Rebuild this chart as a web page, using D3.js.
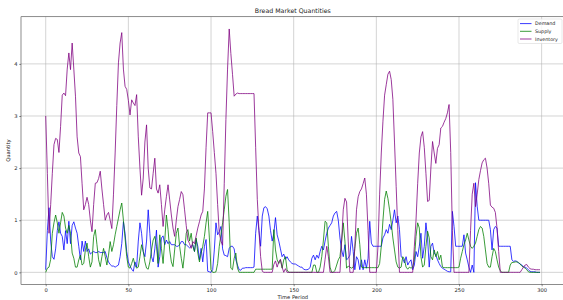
<!DOCTYPE html>
<html><head><meta charset="utf-8">
<script src="https://cdn.jsdelivr.net/npm/d3@7"></script>
<style>html,body{margin:0;padding:0;background:#fff;overflow:hidden}svg{display:block}text{font-family:"DejaVu Sans",sans-serif;fill:#222}</style>
</head><body>
<script>
const title = "Bread Market Quantities";
const xLabel = "Time Period";
const yLabel = "Quantity";
const seriesNames = ["Demand", "Supply", "Inventory"];
const seriesColors = ["#0000ff", "#008000", "#800080"];
const xTicks = [0, 50, 100, 150, 200, 250, 300];
const yTicks = [0, 1, 2, 3, 4];

const demand = [
0.05,0.8,1.24,0.6,0.3,0.25,0.45,0.8,0.97,0.75,
0.69,0.43,0.8,0.55,0.98,0.55,0.9,0.97,0.85,0.75,
0.5,0.24,0.6,0.4,0.6,0.4,0.45,0.35,0.38,0.4,
0.38,0.38,0.4,0.38,0.38,0.38,0.4,0.28,0.2,0.15,
0.12,0.12,0.1,0.12,0.14,0.3,0.55,0.97,0.75,0.4,
0.2,0.12,0.06,0.02,0.2,0.1,0.6,0.95,0.75,0.4,
0.3,0.6,1.2,0.75,0.3,0.2,0.45,0.81,0.1,0.3,
0.66,0.7,0.53,0.62,0.55,0.59,0.53,0.53,0.53,0.5,
0.5,0.53,0.59,0.59,0.53,0.53,0.5,0.47,0.5,0.53,
0.4,0.63,0.5,0.24,0.46,0.2,0.5,0.63,0.02,0.01,
0.0,0.05,0.43,0.95,0.72,0.78,0.88,0.45,0.33,0.32,
0.3,0.46,0.5,0.5,0.45,0.24,0.14,0.05,0.04,0.08,
0.08,0.09,0.09,0.09,0.09,0.09,0.1,0.75,1.08,0.8,
0.5,1.08,1.24,1.26,1.22,1.08,0.8,0.6,0.75,1.05,
0.72,0.6,0.45,0.3,0.35,0.25,0.3,0.24,0.2,0.17,
0.16,0.16,0.14,0.12,0.1,0.1,0.06,0.05,0.05,0.06,
0.1,0.27,0.33,0.24,0.33,0.27,0.4,0.5,0.43,0.6,
0.75,0.85,0.9,0.95,1.08,1.14,1.17,1.0,0.66,0.43,
0.3,0.53,0.24,0.27,0.33,0.69,0.4,0.05,0.3,0.24,
0.05,0.24,0.05,0.24,0.08,0.27,0.98,0.56,0.5,0.5,
0.5,0.5,0.5,0.5,0.66,0.72,0.82,0.75,0.92,0.82,
1.0,1.2,0.95,1.08,0.82,0.3,0.27,0.18,0.3,0.14,
0.2,0.24,0.05,0.14,0.4,0.3,0.5,0.75,0.27,0.5,
0.95,0.66,0.1,0.5,0.56,0.37,0.33,0.24,0.17,0.11,
0.08,0.06,0.04,0.02,0.01,0.01,1.17,0.88,0.5,0.5,
0.5,0.5,0.5,0.72,0.37,0.24,0.1,0.0,0.14,0.0,
1.72,1.27,1.0,1.0,1.0,1.0,1.0,1.0,1.0,0.82,
0.43,0.82,0.88,0.85,0.5,0.5,0.5,0.5,0.5,0.5,
0.5,0.5,0.24,0.21,0.22,0.21,0.18,0.16,0.14,0.11,
0.1,0.08,0.05,0.02,0.01,0.01,0.01,0.0,0.0,0.0
];

const supply = [
0.0,0.08,0.1,0.25,0.75,0.95,1.1,0.95,0.75,0.95,
1.15,1.08,0.85,0.75,0.9,0.75,0.37,0.27,0.1,0.1,
0.24,0.33,0.14,0.17,0.43,0.56,0.3,0.1,0.2,0.69,
0.82,0.53,0.24,0.11,0.3,0.46,0.3,0.14,0.33,0.59,
0.4,0.53,0.72,0.88,1.04,1.2,1.33,1.0,0.66,0.3,
0.1,0.08,0.17,0.27,0.14,0.08,0.1,0.3,0.53,0.4,
0.2,0.08,0.06,0.2,0.43,0.62,0.69,0.5,0.17,0.72,
0.46,0.17,0.6,1.1,0.82,0.43,0.2,0.11,0.43,0.75,
0.85,0.5,0.27,0.08,0.37,0.75,0.82,0.6,0.75,0.5,
0.4,0.66,0.37,0.2,0.37,0.5,0.69,0.95,1.17,0.66,
0.05,0.0,0.0,0.01,0.17,0.5,0.72,0.95,1.2,1.46,
1.59,0.95,0.08,0.05,0.27,0.37,0.08,0.0,0.0,0.0,
0.0,0.0,0.0,0.0,0.0,0.0,0.0,0.06,0.06,0.06,
0.06,0.06,0.06,0.06,0.06,0.06,0.06,0.06,0.82,0.43,
0.24,0.17,0.24,0.08,0.24,0.3,0.05,0.0,0.0,0.0,
0.0,0.0,0.0,0.0,0.0,0.0,0.0,0.0,0.0,0.0,
0.0,0.0,0.14,0.14,0.0,0.0,0.1,0.3,0.62,0.98,
0.95,0.5,0.1,0.0,0.0,0.04,0.14,0.24,0.3,0.6,
0.95,0.6,0.08,0.12,0.1,0.08,0.1,0.46,0.75,0.85,
0.53,0.1,0.09,0.09,0.09,0.09,0.09,0.09,0.09,0.09,
0.09,0.09,0.17,0.5,1.0,1.4,1.56,1.42,1.2,0.95,
0.66,0.43,0.2,0.1,0.08,0.1,0.3,0.25,0.1,0.06,
0.1,0.08,0.1,0.24,0.69,0.95,0.85,0.3,0.1,0.14,
0.5,0.79,0.66,0.3,0.24,0.43,0.3,0.4,0.24,0.33,
0.1,0.09,0.09,0.09,0.09,0.09,0.09,0.09,0.09,0.09,
0.1,0.27,0.4,0.53,0.62,0.75,0.62,0.5,0.46,0.5,
0.56,0.69,0.82,0.88,0.85,0.69,0.43,0.17,0.1,0.1,
0.3,0.46,0.4,0.24,0.1,0.03,0.0,0.0,0.0,0.0,
0.0,0.14,0.19,0.19,0.2,0.2,0.19,0.16,0.12,0.1,
0.08,0.05,0.01,0.0,0.0,0.0,0.0,0.0,0.0,0.0
];

const inventory = [
3.0,1.9,0.75,1.3,1.9,2.45,2.57,2.55,2.3,2.8,
3.4,3.44,3.39,3.9,4.21,3.89,4.4,3.9,3.38,2.6,
2.29,2.22,1.7,1.2,1.3,1.44,1.3,1.0,0.78,1.3,
1.71,1.72,1.8,1.94,1.6,1.3,1.0,1.1,1.15,1.0,
0.84,1.5,2.29,3.2,4.02,4.4,4.6,3.9,3.57,3.51,
3.3,3.02,3.31,3.25,3.2,3.41,2.6,2.0,1.48,1.81,
2.5,2.83,2.0,1.62,1.6,1.9,2.19,1.6,1.52,1.68,
1.3,0.88,1.2,1.45,1.68,1.39,1.1,0.85,0.69,1.0,
1.26,1.4,1.55,1.49,1.2,0.9,0.62,0.55,0.46,0.59,
0.55,0.7,0.85,0.97,1.1,1.17,1.6,2.4,3.06,3.06,
3.06,2.7,2.3,1.9,1.3,0.75,0.6,0.52,1.7,2.93,
3.9,4.67,4.2,3.8,3.38,3.42,3.44,3.43,3.43,3.43,
3.43,3.43,3.43,3.43,3.43,3.43,3.43,2.4,1.4,0.8,
0.3,0.02,0.0,0.0,0.0,0.0,0.0,0.0,0.15,0.22,
0.1,0.2,0.25,0.1,0.0,0.07,0.0,0.0,0.0,0.0,
0.0,0.0,0.0,0.0,0.0,0.0,0.0,0.0,0.0,0.0,
0.0,0.0,0.0,0.0,0.0,0.0,0.0,0.0,0.0,0.25,
0.5,0.3,0.0,0.0,0.0,0.0,0.0,0.0,0.0,0.6,
1.2,1.42,1.35,0.6,0.0,0.0,0.0,0.5,1.2,1.45,
1.55,1.6,1.7,1.81,1.5,0.8,0.0,0.0,0.0,0.0,
0.0,0.5,1.5,2.29,2.9,3.4,3.6,3.8,3.86,3.7,
3.32,2.5,1.65,0.8,0.0,0.0,0.0,0.0,0.0,0.0,
0.0,0.0,0.0,0.5,1.0,1.7,2.29,2.6,2.7,2.4,
1.9,1.36,1.38,2.0,2.51,2.29,2.09,2.38,2.45,2.77,
2.8,2.88,2.95,3.06,3.22,2.3,0.8,0.0,0.0,0.0,
0.0,0.0,0.0,0.0,0.0,0.0,0.0,0.8,1.5,1.71,
1.26,1.5,1.78,1.95,2.1,2.16,2.19,2.0,1.7,1.29,
1.25,1.23,1.15,0.85,0.4,0.0,0.0,0.0,0.0,0.0,
0.0,0.0,0.0,0.0,0.0,0.0,0.0,0.0,0.05,0.1,
0.14,0.15,0.1,0.07,0.06,0.06,0.05,0.05,0.05,0.05
];

const W = 563, H = 300;
const box = {left: 21, right: 564.7, top: 16.8, bottom: 284.5};
const allSeries = [demand, supply, inventory];
const n = demand.length;
const times = d3.range(n);

const xPad = 0.05 * (n - 1);
const yMax = d3.max(allSeries.flat()), yMin = d3.min(allSeries.flat());
const yPad = 0.05 * (yMax - yMin);
const x = d3.scaleLinear().domain([-xPad, n - 1 + xPad]).range([box.left, box.right]);
const y = d3.scaleLinear().domain([yMin - yPad, yMax + yPad]).range([box.bottom, box.top]);

const svg = d3.select("body").append("svg").attr("width", W).attr("height", H);
svg.append("defs").append("clipPath").attr("id", "clip")
  .append("rect").attr("x", box.left).attr("y", box.top)
  .attr("width", box.right - box.left).attr("height", box.bottom - box.top);

// grid
const grid = svg.append("g");
grid.selectAll(".gx").data(xTicks).join("line")
  .attr("x1", d => x(d)).attr("x2", d => x(d)).attr("y1", box.top).attr("y2", box.bottom)
  .attr("stroke", "#b0b0b0").attr("stroke-width", 0.55);
grid.selectAll(".gy").data(yTicks).join("line")
  .attr("x1", box.left).attr("x2", box.right).attr("y1", d => y(d)).attr("y2", d => y(d))
  .attr("stroke", "#b0b0b0").attr("stroke-width", 0.55);

// axes
const xAxis = d3.axisBottom(x).tickValues(xTicks).tickSize(1.8).tickPadding(1.6).tickFormat(d3.format("d"));
const yAxis = d3.axisLeft(y).tickValues(yTicks).tickSize(1.8).tickPadding(1.6).tickFormat(d3.format("d"));
const gx = svg.append("g").attr("transform", `translate(0,${box.bottom})`).call(xAxis);
const gy = svg.append("g").attr("transform", `translate(${box.left},0)`).call(yAxis);
[gx, gy].forEach(g => {
  g.select(".domain").remove();
  g.selectAll(".tick line").attr("stroke", "#000").attr("stroke-width", 0.45);
  g.selectAll(".tick text").attr("font-size", 5.2).attr("fill", "#222").style("font-family", "DejaVu Sans");
});

// spines
svg.append("rect").attr("x", box.left).attr("y", box.top)
  .attr("width", box.right - box.left).attr("height", box.bottom - box.top)
  .attr("fill", "none").attr("stroke", "#000").attr("stroke-width", 0.45);

// lines
const line = d3.line().x((d, i) => x(times[i])).y(d => y(d));
const plot = svg.append("g").attr("clip-path", "url(#clip)");
allSeries.forEach((s, k) => {
  plot.append("path").datum(s).attr("d", line)
    .attr("fill", "none").attr("stroke", seriesColors[k]).attr("stroke-width", 0.95)
    .attr("stroke-opacity", 0.82).attr("stroke-linejoin", "round");
});

// titles
svg.append("text").attr("x", (box.left + box.right) / 2).attr("y", 13.3)
  .attr("text-anchor", "middle").attr("font-size", 6.25).text(title);
svg.append("text").attr("x", (box.left + box.right) / 2).attr("y", 299)
  .attr("text-anchor", "middle").attr("font-size", 5.2).text(xLabel);
svg.append("text").attr("transform", `translate(9.5,${(box.top + box.bottom) / 2}) rotate(-90)`)
  .attr("text-anchor", "middle").attr("font-size", 5.2).text(yLabel);

// legend
const lg = svg.append("g");
const lx = 518, ly = 19, lw = 44, lh = 24.5;
lg.append("rect").attr("x", lx).attr("y", ly).attr("width", lw).attr("height", lh).attr("rx", 1.2)
  .attr("fill", "#fff").attr("fill-opacity", 0.8).attr("stroke", "#d0d0d0").attr("stroke-width", 0.5);
seriesNames.forEach((name, k) => {
  const yy = ly + 4.6 + k * 7.7;
  lg.append("line").attr("x1", lx + 2).attr("x2", lx + 13.5).attr("y1", yy).attr("y2", yy)
    .attr("stroke", seriesColors[k]).attr("stroke-width", 0.95).attr("stroke-opacity", 0.82);
  lg.append("text").attr("x", lx + 17).attr("y", yy + 1.7).attr("font-size", 4.8).text(name);
});
</script>
</body></html>
